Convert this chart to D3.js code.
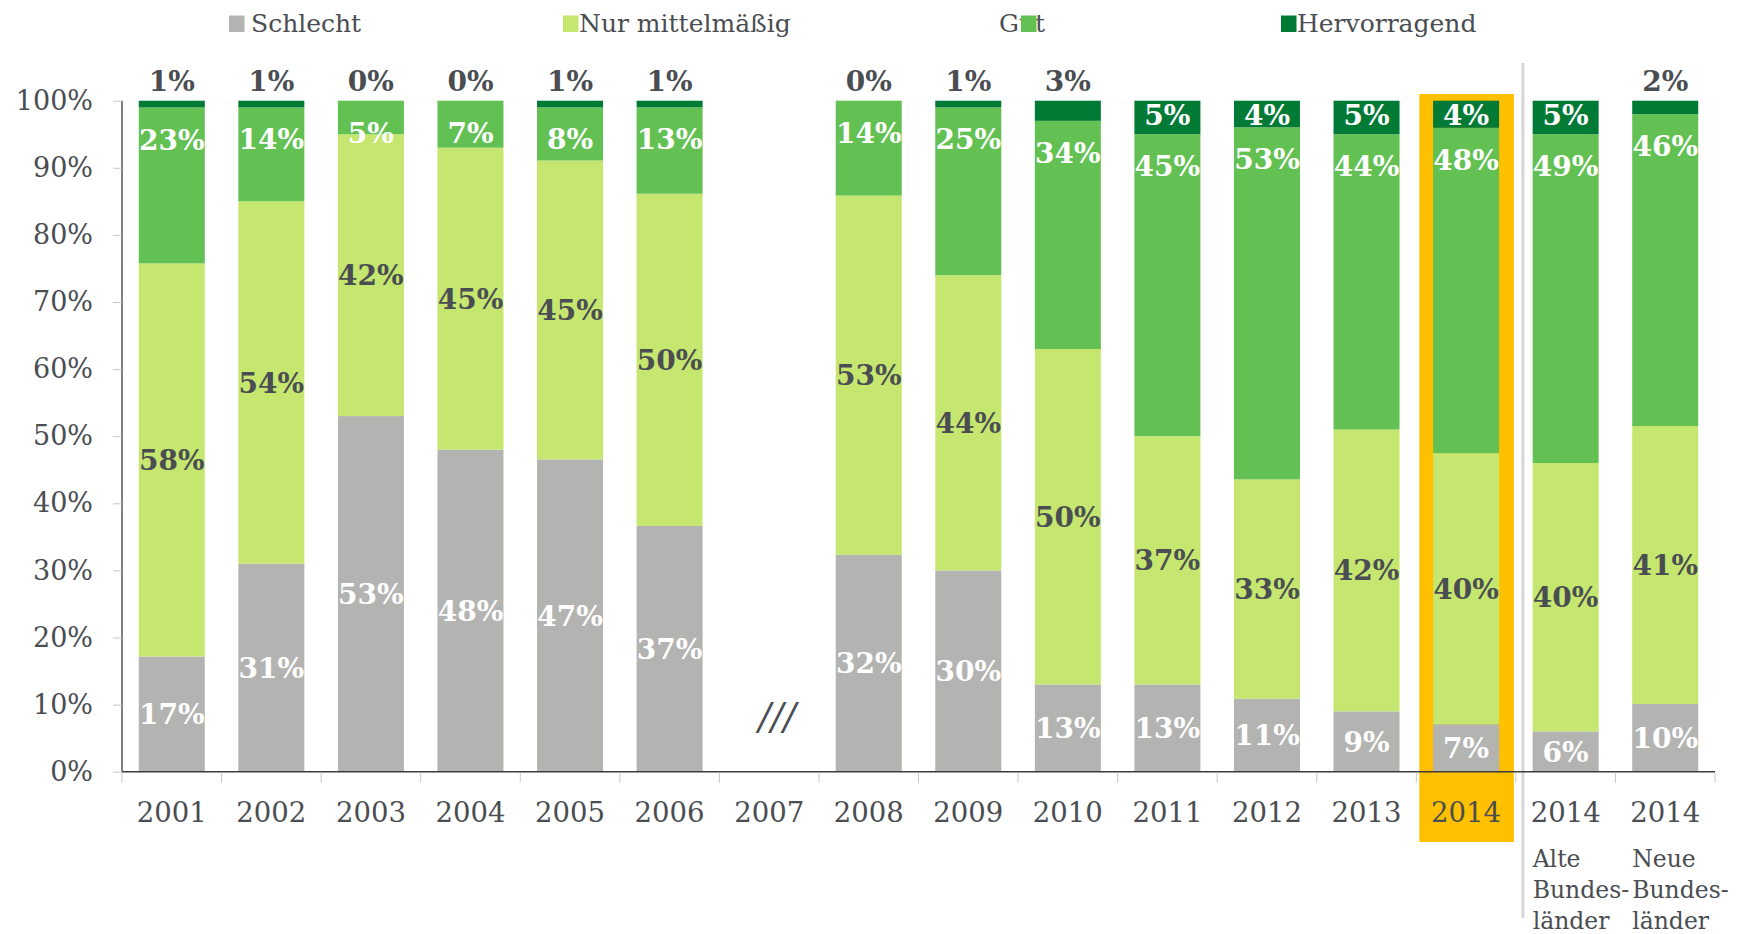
<!DOCTYPE html>
<html>
<head>
<meta charset="utf-8">
<script src="https://cdn.jsdelivr.net/npm/d3@7"></script>
<style>
  html, body { margin: 0; padding: 0; background: #fff; }
  svg { display: block; }
  text { font-family: Georgia, "DejaVu Serif", serif; }
</style>
</head>
<body>
<svg id="chart" width="1739" height="934"></svg>
<script>
// Bewertung der wirtschaftlichen Lage, Anteile in Prozent
const years = ["2001","2002","2003","2004","2005","2006","2007","2008","2009","2010","2011","2012","2013","2014","2014","2014"];
const subLabels = [[],[],[],[],[],[],[],[],[],[],[],[],[],[],["Alte","Bundes-","länder"],["Neue","Bundes-","länder"]];
const schlecht     = [17,31,53,48,47,37,null,32,30,13,13,11, 9, 7, 6,10];
const mittelmaessig= [58,54,42,45,45,50,null,53,44,50,37,33,42,40,40,41];
const gut          = [23,14, 5, 7, 8,13,null,14,25,34,45,53,44,48,49,46];
const hervorragend = [ 1, 1, 0, 0, 1, 1,null, 0, 1, 3, 5, 4, 5, 4, 5, 2];
const seriesNames  = ["Schlecht","Nur mittelmäßig","Gut","Hervorragend"];
const yTicks       = [0,10,20,30,40,50,60,70,80,90,100];
const highlightIndex = 13;   // aktuelles Jahr
const gapIndex = 6;          // keine Erhebung 2007

const colors = {
  "Schlecht": "#b3b3b2",
  "Nur mittelmäßig": "#c5e66f",
  "Gut": "#62c152",
  "Hervorragend": "#007a35"
};
const textDark = "#4a4d51";

const svg = d3.select("#chart");
const margin = { left: 122, right: 1715, top: 100.7, bottom: 771.7 };

const idx = d3.range(years.length);
const x = d3.scaleBand()
  .domain(idx)
  .range([margin.left, margin.right])
  .paddingInner(0.337)
  .paddingOuter(0.1685);
const step = x.step();
const cellLeft = i => x(i) - step * 0.337 / 2;

const y = d3.scaleLinear().domain([0, 1]).range([margin.bottom, margin.top]);

// rows for stacking (2007 has no values)
const rows = idx.filter(i => schlecht[i] !== null).map(i => ({
  i,
  "Schlecht": schlecht[i],
  "Nur mittelmäßig": mittelmaessig[i],
  "Gut": gut[i],
  "Hervorragend": hervorragend[i]
}));
const stacked = d3.stack().keys(seriesNames).offset(d3.stackOffsetExpand)(rows);

// highlight box behind the current year
svg.append("rect")
  .attr("x", cellLeft(highlightIndex) + 3)
  .attr("width", step - 5)
  .attr("y", y(1) - 6.7)
  .attr("height", 842 - (y(1) - 6.7))
  .attr("fill", "#ffc000");

// separator between total and regional bars
svg.append("line")
  .attr("x1", cellLeft(highlightIndex + 1) + 7).attr("x2", cellLeft(highlightIndex + 1) + 7)
  .attr("y1", 63).attr("y2", 918)
  .attr("stroke", "#d6d6d6").attr("stroke-width", 3);

// bars
const layers = svg.append("g").selectAll("g").data(stacked).join("g")
  .attr("fill", d => colors[d.key]);
layers.selectAll("rect").data(d => d).join("rect")
  .attr("x", d => x(d.data.i))
  .attr("width", x.bandwidth())
  .attr("y", d => y(d[1]))
  .attr("height", d => y(d[0]) - y(d[1]));

// axes
const yAxis = d3.axisLeft(y.copy().domain([0, 100]))
  .tickValues(yTicks).tickFormat(d => d + "%").tickSize(9).tickPadding(20);
const gy = svg.append("g").attr("transform", `translate(${margin.left},0)`).call(yAxis);
gy.select(".domain").attr("stroke", "#3c3c3c").attr("stroke-width", 1.3).attr("d", `M0,${y(1)}V${y(0)}`);
gy.selectAll(".tick line").attr("stroke", "#c8c8c8");
gy.selectAll(".tick text").attr("fill", textDark).attr("font-size", 27)
  .attr("font-family", 'Georgia, "DejaVu Serif", serif');

const gx = svg.append("g").attr("transform", `translate(0,${margin.bottom})`);
gx.append("line").attr("x1", margin.left).attr("x2", margin.right)
  .attr("stroke", "#3c3c3c").attr("stroke-width", 1.5);
gx.selectAll("line.tick").data(d3.range(years.length + 1)).join("line")
  .attr("class", "tick")
  .attr("x1", i => margin.left + i * step).attr("x2", i => margin.left + i * step)
  .attr("y1", 1).attr("y2", 11)
  .attr("stroke", "#c8c8c8");
gx.selectAll("text.year").data(idx).join("text")
  .attr("class", "year")
  .attr("x", i => x(i) + x.bandwidth() / 2)
  .attr("y", 50)
  .attr("text-anchor", "middle")
  .attr("font-size", 27.5)
  .attr("fill", textDark)
  .text(i => years[i]);

// sub labels under the regional bars
idx.forEach(i => {
  subLabels[i].forEach((line, k) => {
    svg.append("text")
      .attr("x", x(i))
      .attr("y", 867 + k * 31)
      .attr("font-size", 23.5)
      .attr("fill", textDark)
      .text(line);
  });
});

// gap marker for 2007
svg.append("text")
  .attr("x", x(gapIndex) + x.bandwidth() / 2 + 8)
  .attr("y", 729)
  .attr("text-anchor", "middle")
  .attr("font-size", 37)
  .attr("font-style", "italic")
  .attr("fill", textDark)
  .text("///");

// value labels
const labels = svg.append("g").attr("font-weight", "bold").attr("font-size", 28).attr("text-anchor", "middle");
stacked.forEach(layer => {
  layer.forEach(d => {
    const i = d.data.i;
    const v = d.data[layer.key];
    const cx = x(i) + x.bandwidth() / 2;
    let ty, fill;
    if (layer.key === "Schlecht") {
      ty = (y(d[0]) + y(d[1])) / 2; fill = "#fff";
    } else if (layer.key === "Nur mittelmäßig") {
      ty = (y(d[0]) + y(d[1])) / 2; fill = textDark;
    } else if (layer.key === "Gut") {
      ty = y(d[1]) + 32; fill = "#fff";
    } else {
      if (v < 4) { ty = y(d[1]) - 20; fill = textDark; }
      else { ty = y(d[1]) + 14; fill = "#fff"; }
    }
    labels.append("text")
      .attr("x", cx).attr("y", ty).attr("dy", "0.36em")
      .attr("fill", fill)
      .text(v + "%");
  });
});

// legend
const legendItems = [
  { name: "Schlecht", box: 229, text: 251 },
  { name: "Nur mittelmäßig", box: 563, text: 579 },
  { name: "Gut", box: 1021, text: 999 },
  { name: "Hervorragend", box: 1281, text: 1297 }
];
const lg = svg.append("g");
legendItems.forEach(it => {
  lg.append("text").attr("x", it.text).attr("y", 31.5)
    .attr("font-size", 25).attr("fill", textDark).text(it.name);
});
legendItems.forEach(it => {
  lg.append("rect").attr("x", it.box).attr("y", 15.5)
    .attr("width", 15.5).attr("height", 16.5).attr("fill", colors[it.name]);
});
</script>
</body>
</html>
